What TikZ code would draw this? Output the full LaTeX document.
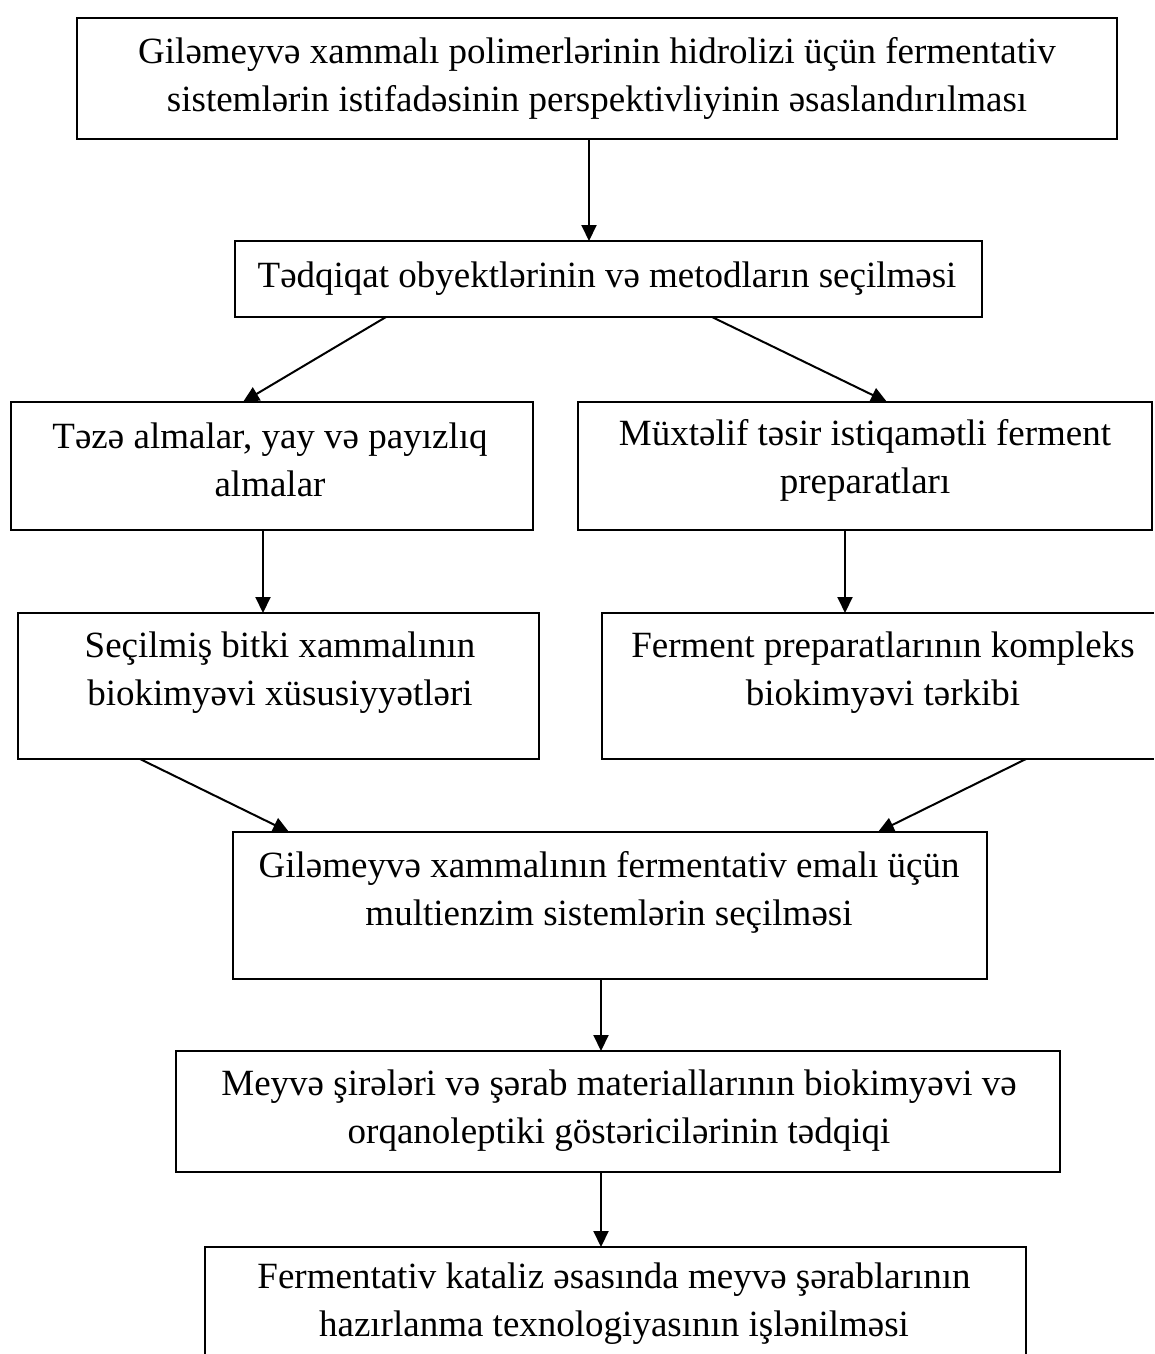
\documentclass[tikz,border=0pt]{standalone}
\usepackage{fontspec}
\setmainfont{Liberation Serif}
\usetikzlibrary{arrows.meta}
\begin{document}
\begin{tikzpicture}[x=1pt,y=-1pt,
  box/.style={draw, line width=2pt, inner sep=0pt, outer sep=0pt},
  frame/.style={inner sep=0pt, outer sep=0pt},
  side/.style={line width=2pt},
  txt/.style={align=center, font=\fontsize{37}{48}\selectfont, inner sep=0pt},
  arr/.style={line width=2pt, -{Triangle[length=16pt,width=15pt]}}]
\useasboundingbox (0,0) rectangle (1154,1354);
% boxes
\node[box, minimum width=1040pt, minimum height=121pt] (b1) at (597,78.5) {};
\node[box, minimum width=747pt, minimum height=76pt] (b2) at (608.5,279) {};
\node[box, minimum width=522pt, minimum height=128pt] (b3) at (272,466) {};
\node[box, minimum width=574pt, minimum height=128pt] (b4) at (865,466) {};
\node[box, minimum width=521pt, minimum height=146pt] (b5) at (278.5,686) {};
\node[frame, minimum width=552pt, minimum height=146pt] (b6) at (878,686) {};
\draw[side] (b6.north east) -- (b6.north west) -- (b6.south west) -- (b6.south east);
\node[box, minimum width=754pt, minimum height=147pt] (b7) at (610,905.5) {};
\node[box, minimum width=884pt, minimum height=121pt] (b8) at (618,1111.5) {};
\node[frame, minimum width=821pt, minimum height=107pt] (b9) at (615.5,1300.5) {};
\draw[side] (b9.south west) -- (b9.north west) -- (b9.north east) -- (b9.south east);
% texts
\node[txt] (t1) at (597,78) {Giləmeyvə xammalı polimerlərinin hidrolizi üçün fermentativ\\sistemlərin istifadəsinin perspektivliyinin əsaslandırılması};
\node[txt] (t2) at (607,279) {Tədqiqat obyektlərinin və metodların seçilməsi};
\node[txt] (t3) at (270,460) {Təzə almalar, yay və payızlıq\\almalar};
\node[txt] (t4) at (865,460) {Müxtəlif təsir istiqamətli ferment\\preparatları};
\node[txt] (t5) at (280,673) {Seçilmiş bitki xammalının\\biokimyəvi xüsusiyyətləri};
\node[txt] (t6) at (883,673) {Ferment preparatlarının kompleks\\biokimyəvi tərkibi};
\node[txt] (t7) at (609,892) {Giləmeyvə xammalının fermentativ emalı üçün\\multienzim sistemlərin seçilməsi};
\node[txt] (t8) at (619,1111) {Meyvə şirələri və şərab materiallarının biokimyəvi və\\orqanoleptiki göstəricilərinin tədqiqi};
\node[txt] (t9) at (614,1304) {Fermentativ kataliz əsasında meyvə şərablarının\\hazırlanma texnologiyasının işlənilməsi};
% connectors
\draw[arr] ([xshift=-8pt]b1.south) -- ([xshift=-19.5pt]b2.north);
\draw[arr] ([xshift=151pt]b2.south west) -- ([xshift=-29pt]b3.north);
\draw[arr] ([xshift=-270pt]b2.south east) -- ([xshift=22pt]b4.north);
\draw[arr] ([xshift=-9pt]b3.south) -- ([xshift=-15.5pt]b5.north);
\draw[arr] ([xshift=-20pt]b4.south) -- ([xshift=-33pt]b6.north);
\draw[arr] ([xshift=-138.5pt]b5.south) -- ([xshift=-321pt]b7.north);
\draw[arr] ([xshift=148pt]b6.south) -- ([xshift=268pt]b7.north);
\draw[arr] ([xshift=-9pt]b7.south) -- ([xshift=-17pt]b8.north);
\draw[arr] ([xshift=-17pt]b8.south) -- ([xshift=-14.5pt]b9.north);
\end{tikzpicture}
\end{document}
